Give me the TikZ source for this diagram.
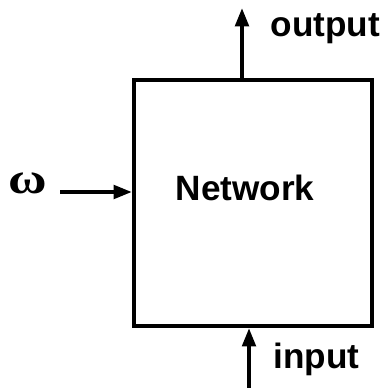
\documentclass[tikz,border=0pt]{standalone}
\usepackage{graphicx}
\usepackage{fontspec}
\setmainfont{Liberation Sans}
\newfontfamily\grk{Liberation Serif}
\usetikzlibrary{arrows.meta}

\begin{document}
\begin{tikzpicture}[x=0.01cm,y=-0.01cm,
  lbl/.style={font=\fontsize{10pt}{12pt}\selectfont\bfseries,inner sep=0pt},
  arr/.style={line width=1.1pt,-{Triangle[length=5.2pt,width=3.8pt]}}]
  \useasboundingbox (0,0) rectangle (386,388);

  % THE NETWORK BOX
  \node[draw,line width=1.15pt,minimum width=2.375cm,minimum height=2.455cm,inner sep=0pt] (Net) at (252.75,203.25) {};
  \node[lbl,anchor=base] (NetLbl) at (245,200) {Network};

  % OUTPUT
  \coordinate (OutTip) at (242,8);
  \draw[arr] (OutTip |- Net.north) -- (OutTip);
  \node[lbl,anchor=base west] (Outp) at (270,37) {output};

  % INPUT
  \coordinate (InBase) at (249,388);
  \draw[arr] (InBase) -- (InBase |- Net.south);
  \node[lbl,anchor=base west] (Inp) at (273,368) {input};

  % OMEGA
  \node[inner sep=0pt,anchor=base] (Omega) at (28,194) {\fontsize{12.5pt}{14pt}\grk\bfseries\scalebox{1.2}[1]{ω}};
  \coordinate (OmStart) at (60,192);
  \draw[arr] (OmStart) -- (OmStart -| Net.west);
\end{tikzpicture}
\end{document}
